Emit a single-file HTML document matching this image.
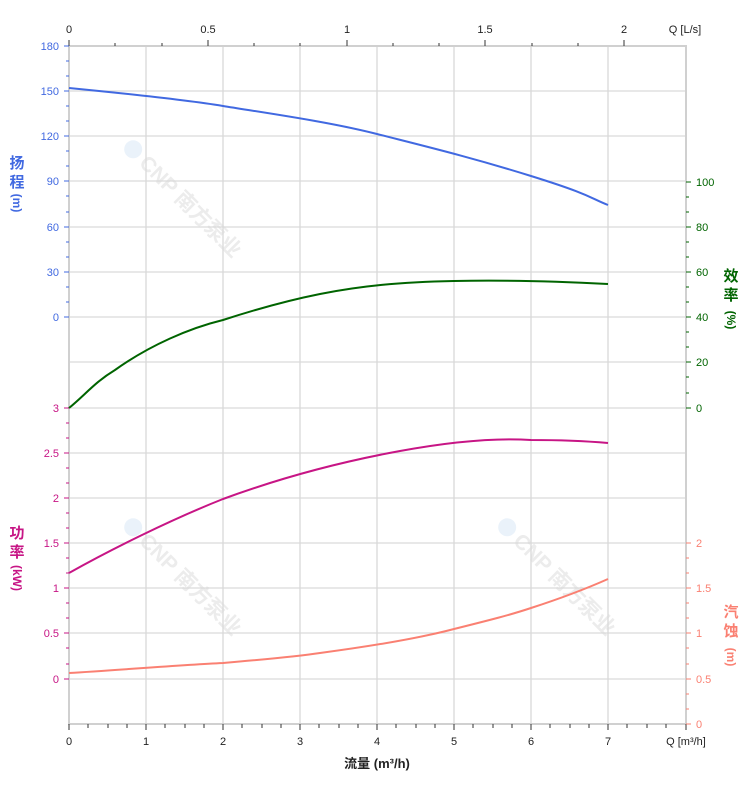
<!DOCTYPE html>
<html><head><meta charset="utf-8"><style>
html,body{margin:0;padding:0;background:#fff;}
svg{display:block;font-family:"Liberation Sans","Noto Sans CJK SC",sans-serif;}
</style></head><body>
<svg width="752" height="797" viewBox="0 0 752 797" xmlns="http://www.w3.org/2000/svg">
<g fill="#ececec" font-weight="bold" font-size="21">
<g transform="translate(124,150) rotate(45)"><circle cx="6" cy="-7" r="9" fill="#eaf2fa"/><text x="20" y="0">CNP 南方泵业</text></g>
<g transform="translate(124,528) rotate(45)"><circle cx="6" cy="-7" r="9" fill="#eaf2fa"/><text x="20" y="0">CNP 南方泵业</text></g>
<g transform="translate(498,528) rotate(45)"><circle cx="6" cy="-7" r="9" fill="#eaf2fa"/><text x="20" y="0">CNP 南方泵业</text></g>
</g>
<g stroke="#d9d9d9" stroke-width="1.3">
<line x1="146" y1="46" x2="146" y2="724"/><line x1="223" y1="46" x2="223" y2="724"/><line x1="300" y1="46" x2="300" y2="724"/><line x1="377" y1="46" x2="377" y2="724"/><line x1="454" y1="46" x2="454" y2="724"/><line x1="531" y1="46" x2="531" y2="724"/><line x1="608" y1="46" x2="608" y2="724"/>
<line x1="69" y1="91" x2="686" y2="91"/><line x1="69" y1="136" x2="686" y2="136"/><line x1="69" y1="181" x2="686" y2="181"/><line x1="69" y1="227" x2="686" y2="227"/><line x1="69" y1="272" x2="686" y2="272"/><line x1="69" y1="317" x2="686" y2="317"/><line x1="69" y1="362" x2="686" y2="362"/><line x1="69" y1="408" x2="686" y2="408"/><line x1="69" y1="453" x2="686" y2="453"/><line x1="69" y1="498" x2="686" y2="498"/><line x1="69" y1="543" x2="686" y2="543"/><line x1="69" y1="588" x2="686" y2="588"/><line x1="69" y1="633" x2="686" y2="633"/><line x1="69" y1="679" x2="686" y2="679"/>
</g>
<rect x="69" y="46" width="617" height="678" fill="none" stroke="#d0d0d0" stroke-width="2"/>
<g stroke="#333" stroke-width="1">
<line x1="69" y1="40" x2="69" y2="46"/><line x1="208" y1="40" x2="208" y2="46"/><line x1="347" y1="40" x2="347" y2="46"/><line x1="485" y1="40" x2="485" y2="46"/><line x1="624" y1="40" x2="624" y2="46"/>
<line x1="115" y1="43" x2="115" y2="46"/><line x1="162" y1="43" x2="162" y2="46"/><line x1="254" y1="43" x2="254" y2="46"/><line x1="300" y1="43" x2="300" y2="46"/><line x1="393" y1="43" x2="393" y2="46"/><line x1="439" y1="43" x2="439" y2="46"/><line x1="532" y1="43" x2="532" y2="46"/><line x1="578" y1="43" x2="578" y2="46"/>
</g>
<g font-size="11" fill="#222" text-anchor="middle">
<text x="69" y="33">0</text><text x="208" y="33">0.5</text><text x="347" y="33">1</text><text x="485" y="33">1.5</text><text x="624" y="33">2</text>
<text x="685" y="33">Q [L/s]</text>
</g>
<g stroke="#333" stroke-width="1">
<line x1="69" y1="724" x2="69" y2="730"/><line x1="146" y1="724" x2="146" y2="730"/><line x1="223" y1="724" x2="223" y2="730"/><line x1="300" y1="724" x2="300" y2="730"/><line x1="377" y1="724" x2="377" y2="730"/><line x1="454" y1="724" x2="454" y2="730"/><line x1="531" y1="724" x2="531" y2="730"/><line x1="608" y1="724" x2="608" y2="730"/><line x1="686" y1="724" x2="686" y2="730"/>
<line x1="88" y1="724" x2="88" y2="728"/><line x1="108" y1="724" x2="108" y2="728"/><line x1="127" y1="724" x2="127" y2="728"/>
<line x1="165" y1="724" x2="165" y2="728"/><line x1="185" y1="724" x2="185" y2="728"/><line x1="204" y1="724" x2="204" y2="728"/>
<line x1="242" y1="724" x2="242" y2="728"/><line x1="262" y1="724" x2="262" y2="728"/><line x1="281" y1="724" x2="281" y2="728"/>
<line x1="319" y1="724" x2="319" y2="728"/><line x1="339" y1="724" x2="339" y2="728"/><line x1="358" y1="724" x2="358" y2="728"/>
<line x1="396" y1="724" x2="396" y2="728"/><line x1="416" y1="724" x2="416" y2="728"/><line x1="435" y1="724" x2="435" y2="728"/>
<line x1="473" y1="724" x2="473" y2="728"/><line x1="493" y1="724" x2="493" y2="728"/><line x1="512" y1="724" x2="512" y2="728"/>
<line x1="550" y1="724" x2="550" y2="728"/><line x1="570" y1="724" x2="570" y2="728"/><line x1="589" y1="724" x2="589" y2="728"/>
<line x1="627" y1="724" x2="627" y2="728"/><line x1="647" y1="724" x2="647" y2="728"/><line x1="666" y1="724" x2="666" y2="728"/>
</g>
<g font-size="11" fill="#222" text-anchor="middle">
<text x="69" y="745">0</text><text x="146" y="745">1</text><text x="223" y="745">2</text><text x="300" y="745">3</text><text x="377" y="745">4</text><text x="454" y="745">5</text><text x="531" y="745">6</text><text x="608" y="745">7</text>
<text x="686" y="745">Q [m³/h]</text>
</g>
<text x="377" y="768" font-size="13" font-weight="bold" fill="#222" text-anchor="middle">流量 (m³/h)</text>
<g stroke="#4169e1" stroke-width="1">
<line x1="64" y1="46" x2="69" y2="46"/><line x1="64" y1="91" x2="69" y2="91"/><line x1="64" y1="136" x2="69" y2="136"/><line x1="64" y1="181" x2="69" y2="181"/><line x1="64" y1="227" x2="69" y2="227"/><line x1="64" y1="272" x2="69" y2="272"/><line x1="64" y1="317" x2="69" y2="317"/>
<line x1="66" y1="61" x2="69" y2="61"/><line x1="66" y1="76" x2="69" y2="76"/><line x1="66" y1="106" x2="69" y2="106"/><line x1="66" y1="121" x2="69" y2="121"/><line x1="66" y1="151" x2="69" y2="151"/><line x1="66" y1="166" x2="69" y2="166"/><line x1="66" y1="196" x2="69" y2="196"/><line x1="66" y1="212" x2="69" y2="212"/><line x1="66" y1="242" x2="69" y2="242"/><line x1="66" y1="257" x2="69" y2="257"/><line x1="66" y1="287" x2="69" y2="287"/><line x1="66" y1="302" x2="69" y2="302"/>
</g>
<g font-size="11" fill="#4169e1" text-anchor="end">
<text x="59" y="50">180</text><text x="59" y="95">150</text><text x="59" y="140">120</text><text x="59" y="185">90</text><text x="59" y="231">60</text><text x="59" y="276">30</text><text x="59" y="321">0</text>
</g>
<g font-size="15" font-weight="bold" fill="#4169e1" text-anchor="middle">
<text x="17" y="168">扬</text><text x="17" y="187">程</text><text x="17" y="203" font-size="12" transform="rotate(90 17 203)" dy="4">(m)</text>
</g>
<g stroke="#c71585" stroke-width="1">
<line x1="64" y1="408" x2="69" y2="408"/><line x1="64" y1="453" x2="69" y2="453"/><line x1="64" y1="498" x2="69" y2="498"/><line x1="64" y1="543" x2="69" y2="543"/><line x1="64" y1="588" x2="69" y2="588"/><line x1="64" y1="633" x2="69" y2="633"/><line x1="64" y1="679" x2="69" y2="679"/>
<line x1="66" y1="423" x2="69" y2="423"/><line x1="66" y1="438" x2="69" y2="438"/><line x1="66" y1="468" x2="69" y2="468"/><line x1="66" y1="483" x2="69" y2="483"/><line x1="66" y1="513" x2="69" y2="513"/><line x1="66" y1="528" x2="69" y2="528"/><line x1="66" y1="558" x2="69" y2="558"/><line x1="66" y1="573" x2="69" y2="573"/><line x1="66" y1="603" x2="69" y2="603"/><line x1="66" y1="618" x2="69" y2="618"/><line x1="66" y1="648" x2="69" y2="648"/><line x1="66" y1="664" x2="69" y2="664"/>
</g>
<g font-size="11" fill="#c71585" text-anchor="end">
<text x="59" y="412">3</text><text x="59" y="457">2.5</text><text x="59" y="502">2</text><text x="59" y="547">1.5</text><text x="59" y="592">1</text><text x="59" y="637">0.5</text><text x="59" y="683">0</text>
</g>
<g font-size="15" font-weight="bold" fill="#c71585" text-anchor="middle">
<text x="17" y="538">功</text><text x="17" y="557">率</text>
<text x="17" y="578" font-size="12" transform="rotate(90 17 578)" dy="4">(kW)</text>
</g>
<g stroke="#006400" stroke-width="1">
<line x1="686" y1="182" x2="691" y2="182"/><line x1="686" y1="227" x2="691" y2="227"/><line x1="686" y1="272" x2="691" y2="272"/><line x1="686" y1="317" x2="691" y2="317"/><line x1="686" y1="362" x2="691" y2="362"/><line x1="686" y1="408" x2="691" y2="408"/>
<line x1="686" y1="197" x2="689" y2="197"/><line x1="686" y1="212" x2="689" y2="212"/><line x1="686" y1="242" x2="689" y2="242"/><line x1="686" y1="257" x2="689" y2="257"/><line x1="686" y1="287" x2="689" y2="287"/><line x1="686" y1="302" x2="689" y2="302"/><line x1="686" y1="332" x2="689" y2="332"/><line x1="686" y1="347" x2="689" y2="347"/><line x1="686" y1="377" x2="689" y2="377"/><line x1="686" y1="393" x2="689" y2="393"/>
</g>
<g font-size="11" fill="#006400">
<text x="696" y="186">100</text><text x="696" y="231">80</text><text x="696" y="276">60</text><text x="696" y="321">40</text><text x="696" y="366">20</text><text x="696" y="412">0</text>
</g>
<g font-size="15" font-weight="bold" fill="#006400" text-anchor="middle">
<text x="731" y="281">效</text><text x="731" y="300">率</text>
<text x="731" y="320" font-size="12" transform="rotate(90 731 320)" dy="4">(%)</text>
</g>
<g stroke="#fa8072" stroke-width="1">
<line x1="686" y1="543" x2="691" y2="543"/><line x1="686" y1="588" x2="691" y2="588"/><line x1="686" y1="633" x2="691" y2="633"/><line x1="686" y1="679" x2="691" y2="679"/><line x1="686" y1="724" x2="691" y2="724"/>
<line x1="686" y1="558" x2="689" y2="558"/><line x1="686" y1="573" x2="689" y2="573"/><line x1="686" y1="603" x2="689" y2="603"/><line x1="686" y1="618" x2="689" y2="618"/><line x1="686" y1="648" x2="689" y2="648"/><line x1="686" y1="664" x2="689" y2="664"/><line x1="686" y1="694" x2="689" y2="694"/><line x1="686" y1="709" x2="689" y2="709"/>
</g>
<g font-size="11" fill="#fa8072">
<text x="696" y="547">2</text><text x="696" y="592">1.5</text><text x="696" y="637">1</text><text x="696" y="683">0.5</text><text x="696" y="728">0</text>
</g>
<g font-size="15" font-weight="bold" fill="#fa8072" text-anchor="middle">
<text x="731" y="617">汽</text><text x="731" y="636">蚀</text>
<text x="731" y="657" font-size="12" transform="rotate(90 731 657)" dy="4">(m)</text>
</g>
<g fill="none" stroke-width="2">
<path d="M69,88 C120,93 180,99 223,106 S330,122 377,134 S470,157 531,176 S590,198 608,205" stroke="#4169e1"/>
<path d="M69,408 C85,395 95,382 115,370 C150,345 190,328 223,320 C260,308 290,300 320,294 C360,286 400,282 454,281 C500,280 550,281 608,284" stroke="#006400"/>
<path d="M69,573 C110,550 170,520 223,499 C280,478 340,462 400,451 C460,440 500,438 531,440 C560,440 585,441 608,443" stroke="#c71585"/>
<path d="M69,673 C120,670 180,665 223,663 C270,659 300,656 320,653 C380,645 420,638 454,629 C490,620 510,615 531,608 C565,597 590,587 608,579" stroke="#fa8072"/>
</g>
</svg>
</body></html>
